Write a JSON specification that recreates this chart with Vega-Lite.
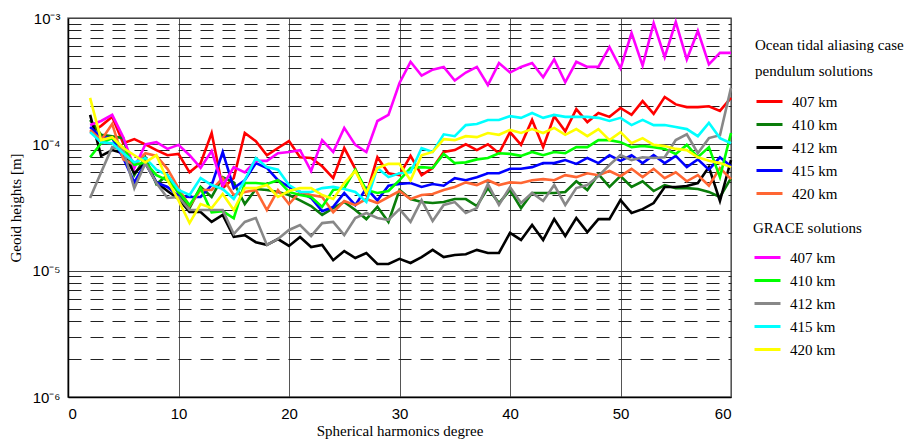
{
"$schema": "https://vega.github.io/schema/vega-lite/v6.json",
"width": 663, "height": 379,
"autosize": {"type": "none"},
"padding": {"left": 68, "top": 18, "right": 182, "bottom": 43},
"background": "white",
"config": {"view": {"stroke": "#777", "strokeWidth": 1.5}},
"datasets": {
"pendulum": [
{"d":2,"k":"407 km","v":1.23e-4},{"d":3,"k":"407 km","v":1.40e-4},{"d":4,"k":"407 km","v":1.65e-4},{"d":5,"k":"407 km","v":1.02e-4},{"d":6,"k":"407 km","v":1.1e-4},{"d":7,"k":"407 km","v":1.0e-4},{"d":8,"k":"407 km","v":9.0e-5},{"d":9,"k":"407 km","v":8.2e-5},{"d":10,"k":"407 km","v":8.4e-5},{"d":11,"k":"407 km","v":6.0e-5},
{"d":12,"k":"407 km","v":7.1e-5},{"d":13,"k":"407 km","v":1.23e-4},{"d":14,"k":"407 km","v":4.5e-5},{"d":15,"k":"407 km","v":5.4e-5},{"d":16,"k":"407 km","v":1.23e-4},{"d":17,"k":"407 km","v":1.06e-4},{"d":18,"k":"407 km","v":8.2e-5},{"d":19,"k":"407 km","v":9.35e-5},{"d":20,"k":"407 km","v":1.06e-4},{"d":21,"k":"407 km","v":7.9e-5},
{"d":22,"k":"407 km","v":7.8e-5},{"d":23,"k":"407 km","v":6.7e-5},{"d":24,"k":"407 km","v":5.4e-5},{"d":25,"k":"407 km","v":9.35e-5},{"d":26,"k":"407 km","v":6.4e-5},{"d":27,"k":"407 km","v":4.0e-5},{"d":28,"k":"407 km","v":7.9e-5},{"d":29,"k":"407 km","v":5.9e-5},{"d":30,"k":"407 km","v":5.7e-5},{"d":31,"k":"407 km","v":8.1e-5},
{"d":32,"k":"407 km","v":5.7e-5},{"d":33,"k":"407 km","v":6.5e-5},{"d":34,"k":"407 km","v":8.7e-5},{"d":35,"k":"407 km","v":9.0e-5},{"d":36,"k":"407 km","v":1.0e-4},{"d":37,"k":"407 km","v":9.0e-5},{"d":38,"k":"407 km","v":1.0e-4},{"d":39,"k":"407 km","v":8.5e-5},{"d":40,"k":"407 km","v":1.25e-4},{"d":41,"k":"407 km","v":9.9e-5},
{"d":42,"k":"407 km","v":1.56e-4},{"d":43,"k":"407 km","v":9.5e-5},{"d":44,"k":"407 km","v":1.67e-4},{"d":45,"k":"407 km","v":1.27e-4},{"d":46,"k":"407 km","v":1.9e-4},{"d":47,"k":"407 km","v":1.5e-4},{"d":48,"k":"407 km","v":1.77e-4},{"d":49,"k":"407 km","v":1.65e-4},{"d":50,"k":"407 km","v":1.94e-4},{"d":51,"k":"407 km","v":1.71e-4},
{"d":52,"k":"407 km","v":2.2e-4},{"d":53,"k":"407 km","v":1.74e-4},{"d":54,"k":"407 km","v":2.37e-4},{"d":55,"k":"407 km","v":2.07e-4},{"d":56,"k":"407 km","v":1.97e-4},{"d":57,"k":"407 km","v":1.97e-4},{"d":58,"k":"407 km","v":2.0e-4},{"d":59,"k":"407 km","v":1.84e-4},{"d":60,"k":"407 km","v":2.33e-4},

{"d":2,"k":"410 km","v":1.56e-4},{"d":3,"k":"410 km","v":1.19e-4},{"d":4,"k":"410 km","v":1.16e-4},{"d":5,"k":"410 km","v":1.12e-4},{"d":6,"k":"410 km","v":5.7e-5},{"d":7,"k":"410 km","v":7.9e-5},{"d":8,"k":"410 km","v":4.85e-5},{"d":9,"k":"410 km","v":5.7e-5},{"d":10,"k":"410 km","v":4.12e-5},{"d":11,"k":"410 km","v":3.13e-5},
{"d":12,"k":"410 km","v":4.6e-5},{"d":13,"k":"410 km","v":3.83e-5},{"d":14,"k":"410 km","v":5.5e-5},{"d":15,"k":"410 km","v":5.0e-5},{"d":16,"k":"410 km","v":3.37e-5},{"d":17,"k":"410 km","v":4.43e-5},{"d":18,"k":"410 km","v":4.35e-5},{"d":19,"k":"410 km","v":4.2e-5},{"d":20,"k":"410 km","v":3.97e-5},{"d":21,"k":"410 km","v":3.6e-5},
{"d":22,"k":"410 km","v":3.25e-5},{"d":23,"k":"410 km","v":2.76e-5},{"d":24,"k":"410 km","v":3.13e-5},{"d":25,"k":"410 km","v":3.5e-5},{"d":26,"k":"410 km","v":3.02e-5},{"d":27,"k":"410 km","v":2.56e-5},{"d":28,"k":"410 km","v":3.2e-5},{"d":29,"k":"410 km","v":2.43e-5},{"d":30,"k":"410 km","v":4.35e-5},{"d":31,"k":"410 km","v":3.69e-5},
{"d":32,"k":"410 km","v":3.5e-5},{"d":33,"k":"410 km","v":3.43e-5},{"d":34,"k":"410 km","v":3.5e-5},{"d":35,"k":"410 km","v":3.69e-5},{"d":36,"k":"410 km","v":3.69e-5},{"d":37,"k":"410 km","v":3.25e-5},{"d":38,"k":"410 km","v":4.5e-5},{"d":39,"k":"410 km","v":3.43e-5},{"d":40,"k":"410 km","v":4.35e-5},{"d":41,"k":"410 km","v":3.13e-5},
{"d":42,"k":"410 km","v":4.12e-5},{"d":43,"k":"410 km","v":4.12e-5},{"d":44,"k":"410 km","v":4.12e-5},{"d":45,"k":"410 km","v":4.2e-5},{"d":46,"k":"410 km","v":5.1e-5},{"d":47,"k":"410 km","v":4.35e-5},{"d":48,"k":"410 km","v":5.8e-5},{"d":49,"k":"410 km","v":4.6e-5},{"d":50,"k":"410 km","v":5.6e-5},{"d":51,"k":"410 km","v":4.6e-5},
{"d":52,"k":"410 km","v":5.1e-5},{"d":53,"k":"410 km","v":4.27e-5},{"d":54,"k":"410 km","v":4.76e-5},{"d":55,"k":"410 km","v":4.5e-5},{"d":56,"k":"410 km","v":4.5e-5},{"d":57,"k":"410 km","v":4.43e-5},{"d":58,"k":"410 km","v":4.2e-5},{"d":59,"k":"410 km","v":3.83e-5},{"d":60,"k":"410 km","v":5.4e-5},

{"d":2,"k":"412 km","v":1.71e-4},{"d":3,"k":"412 km","v":8.1e-5},{"d":4,"k":"412 km","v":9.0e-5},{"d":5,"k":"412 km","v":8.5e-5},{"d":6,"k":"412 km","v":5.9e-5},{"d":7,"k":"412 km","v":7.1e-5},{"d":8,"k":"412 km","v":5.0e-5},{"d":9,"k":"412 km","v":4.27e-5},{"d":10,"k":"412 km","v":3.69e-5},{"d":11,"k":"412 km","v":2.91e-5},
{"d":12,"k":"412 km","v":2.91e-5},{"d":13,"k":"412 km","v":2.43e-5},{"d":14,"k":"412 km","v":2.76e-5},{"d":15,"k":"412 km","v":1.85e-5},{"d":16,"k":"412 km","v":1.91e-5},{"d":17,"k":"412 km","v":1.68e-5},{"d":18,"k":"412 km","v":1.6e-5},{"d":19,"k":"412 km","v":1.78e-5},{"d":20,"k":"412 km","v":1.57e-5},{"d":21,"k":"412 km","v":1.85e-5},
{"d":22,"k":"412 km","v":1.54e-5},{"d":23,"k":"412 km","v":1.6e-5},{"d":24,"k":"412 km","v":1.21e-5},{"d":25,"k":"412 km","v":1.43e-5},{"d":26,"k":"412 km","v":1.26e-5},{"d":27,"k":"412 km","v":1.38e-5},{"d":28,"k":"412 km","v":1.13e-5},{"d":29,"k":"412 km","v":1.13e-5},{"d":30,"k":"412 km","v":1.24e-5},{"d":31,"k":"412 km","v":1.15e-5},
{"d":32,"k":"412 km","v":1.28e-5},{"d":33,"k":"412 km","v":1.46e-5},{"d":34,"k":"412 km","v":1.28e-5},{"d":35,"k":"412 km","v":1.33e-5},{"d":36,"k":"412 km","v":1.35e-5},{"d":37,"k":"412 km","v":1.46e-5},{"d":38,"k":"412 km","v":1.38e-5},{"d":39,"k":"412 km","v":1.38e-5},{"d":40,"k":"412 km","v":1.99e-5},{"d":41,"k":"412 km","v":1.75e-5},
{"d":42,"k":"412 km","v":2.3e-5},{"d":43,"k":"412 km","v":1.75e-5},{"d":44,"k":"412 km","v":2.56e-5},{"d":45,"k":"412 km","v":1.88e-5},{"d":46,"k":"412 km","v":2.61e-5},{"d":47,"k":"412 km","v":2.02e-5},{"d":48,"k":"412 km","v":2.56e-5},{"d":49,"k":"412 km","v":2.56e-5},{"d":50,"k":"412 km","v":3.62e-5},{"d":51,"k":"412 km","v":2.86e-5},
{"d":52,"k":"412 km","v":3.07e-5},{"d":53,"k":"412 km","v":3.43e-5},{"d":54,"k":"412 km","v":4.59e-5},{"d":55,"k":"412 km","v":4.59e-5},{"d":56,"k":"412 km","v":4.68e-5},{"d":57,"k":"412 km","v":4.94e-5},{"d":58,"k":"412 km","v":6.61e-5},{"d":59,"k":"412 km","v":3.56e-5},{"d":60,"k":"412 km","v":7.5e-5},

{"d":2,"k":"415 km","v":1.37e-4},{"d":3,"k":"415 km","v":1.14e-4},{"d":4,"k":"415 km","v":1.12e-4},{"d":5,"k":"415 km","v":7.8e-5},{"d":6,"k":"415 km","v":5.0e-5},{"d":7,"k":"415 km","v":7.1e-5},{"d":8,"k":"415 km","v":5.0e-5},{"d":9,"k":"415 km","v":4.6e-5},{"d":10,"k":"415 km","v":3.9e-5},{"d":11,"k":"415 km","v":3.83e-5},
{"d":12,"k":"415 km","v":3.83e-5},{"d":13,"k":"415 km","v":4.76e-5},{"d":14,"k":"415 km","v":8.7e-5},{"d":15,"k":"415 km","v":4.5e-5},{"d":16,"k":"415 km","v":5.2e-5},{"d":17,"k":"415 km","v":7.1e-5},{"d":18,"k":"415 km","v":6.5e-5},{"d":19,"k":"415 km","v":5.2e-5},{"d":20,"k":"415 km","v":4.6e-5},{"d":21,"k":"415 km","v":4.2e-5},
{"d":22,"k":"415 km","v":3.76e-5},{"d":23,"k":"415 km","v":2.96e-5},{"d":24,"k":"415 km","v":3.2e-5},{"d":25,"k":"415 km","v":4.12e-5},{"d":26,"k":"415 km","v":3.3e-5},{"d":27,"k":"415 km","v":4.5e-5},{"d":28,"k":"415 km","v":3.6e-5},{"d":29,"k":"415 km","v":4.7e-5},{"d":30,"k":"415 km","v":4.85e-5},{"d":31,"k":"415 km","v":4.94e-5},
{"d":32,"k":"415 km","v":4.6e-5},{"d":33,"k":"415 km","v":4.85e-5},{"d":34,"k":"415 km","v":4.7e-5},{"d":35,"k":"415 km","v":5.4e-5},{"d":36,"k":"415 km","v":5.2e-5},{"d":37,"k":"415 km","v":5.5e-5},{"d":38,"k":"415 km","v":5.9e-5},{"d":39,"k":"415 km","v":5.9e-5},{"d":40,"k":"415 km","v":6.4e-5},{"d":41,"k":"415 km","v":6.4e-5},
{"d":42,"k":"415 km","v":6.6e-5},{"d":43,"k":"415 km","v":7.1e-5},{"d":44,"k":"415 km","v":7.1e-5},{"d":45,"k":"415 km","v":7.5e-5},{"d":46,"k":"415 km","v":7.0e-5},{"d":47,"k":"415 km","v":7.8e-5},{"d":48,"k":"415 km","v":7.1e-5},{"d":49,"k":"415 km","v":8.2e-5},{"d":50,"k":"415 km","v":7.4e-5},{"d":51,"k":"415 km","v":8.2e-5},
{"d":52,"k":"415 km","v":7.1e-5},{"d":53,"k":"415 km","v":8.2e-5},{"d":54,"k":"415 km","v":7.1e-5},{"d":55,"k":"415 km","v":8.1e-5},{"d":56,"k":"415 km","v":6.6e-5},{"d":57,"k":"415 km","v":7.6e-5},{"d":58,"k":"415 km","v":6.3e-5},{"d":59,"k":"415 km","v":7.9e-5},{"d":60,"k":"415 km","v":6.7e-5},

{"d":2,"k":"420 km","v":1.3e-4},{"d":3,"k":"420 km","v":1.08e-4},{"d":4,"k":"420 km","v":1.45e-4},{"d":5,"k":"420 km","v":7.6e-5},{"d":6,"k":"420 km","v":6.9e-5},{"d":7,"k":"420 km","v":8.5e-5},{"d":8,"k":"420 km","v":8.1e-5},{"d":9,"k":"420 km","v":6.4e-5},{"d":10,"k":"420 km","v":4.5e-5},{"d":11,"k":"420 km","v":3.25e-5},
{"d":12,"k":"420 km","v":4.35e-5},{"d":13,"k":"420 km","v":4.35e-5},{"d":14,"k":"420 km","v":5.4e-5},{"d":15,"k":"420 km","v":3.97e-5},{"d":16,"k":"420 km","v":4.2e-5},{"d":17,"k":"420 km","v":4.35e-5},{"d":18,"k":"420 km","v":3.02e-5},{"d":19,"k":"420 km","v":4.35e-5},{"d":20,"k":"420 km","v":3.37e-5},{"d":21,"k":"420 km","v":4.2e-5},
{"d":22,"k":"420 km","v":3.97e-5},{"d":23,"k":"420 km","v":3.83e-5},{"d":24,"k":"420 km","v":2.9e-5},{"d":25,"k":"420 km","v":3.56e-5},{"d":26,"k":"420 km","v":3.3e-5},{"d":27,"k":"420 km","v":3.69e-5},{"d":28,"k":"420 km","v":3.43e-5},{"d":29,"k":"420 km","v":3.83e-5},{"d":30,"k":"420 km","v":4.27e-5},{"d":31,"k":"420 km","v":3.69e-5},
{"d":32,"k":"420 km","v":3.97e-5},{"d":33,"k":"420 km","v":4.04e-5},{"d":34,"k":"420 km","v":4.35e-5},{"d":35,"k":"420 km","v":4.6e-5},{"d":36,"k":"420 km","v":5.0e-5},{"d":37,"k":"420 km","v":4.76e-5},{"d":38,"k":"420 km","v":5.2e-5},{"d":39,"k":"420 km","v":4.76e-5},{"d":40,"k":"420 km","v":5.0e-5},{"d":41,"k":"420 km","v":4.94e-5},
{"d":42,"k":"420 km","v":5.2e-5},{"d":43,"k":"420 km","v":5.3e-5},{"d":44,"k":"420 km","v":5.2e-5},{"d":45,"k":"420 km","v":5.7e-5},{"d":46,"k":"420 km","v":5.5e-5},{"d":47,"k":"420 km","v":5.9e-5},{"d":48,"k":"420 km","v":5.7e-5},{"d":49,"k":"420 km","v":6.15e-5},{"d":50,"k":"420 km","v":5.6e-5},{"d":51,"k":"420 km","v":6.4e-5},
{"d":52,"k":"420 km","v":5.5e-5},{"d":53,"k":"420 km","v":6.4e-5},{"d":54,"k":"420 km","v":5.4e-5},{"d":55,"k":"420 km","v":6.0e-5},{"d":56,"k":"420 km","v":5.1e-5},{"d":57,"k":"420 km","v":5.7e-5},{"d":58,"k":"420 km","v":4.7e-5},{"d":59,"k":"420 km","v":6.5e-5},{"d":60,"k":"420 km","v":5.3e-5}
],
"grace": [
{"d":2,"k":"407 km","v":1.42e-4},{"d":3,"k":"407 km","v":1.53e-4},{"d":4,"k":"407 km","v":1.71e-4},{"d":5,"k":"407 km","v":1.14e-4},{"d":6,"k":"407 km","v":6.5e-5},{"d":7,"k":"407 km","v":1.0e-4},{"d":8,"k":"407 km","v":1.04e-4},{"d":9,"k":"407 km","v":9.2e-5},{"d":10,"k":"407 km","v":9.9e-5},{"d":11,"k":"407 km","v":8.2e-5},
{"d":12,"k":"407 km","v":6.5e-5},{"d":13,"k":"407 km","v":8.85e-5},{"d":14,"k":"407 km","v":4.7e-5},{"d":15,"k":"407 km","v":6.6e-5},{"d":16,"k":"407 km","v":6.0e-5},{"d":17,"k":"407 km","v":7.4e-5},{"d":18,"k":"407 km","v":7.4e-5},{"d":19,"k":"407 km","v":8.5e-5},{"d":20,"k":"407 km","v":8.7e-5},{"d":21,"k":"407 km","v":9.0e-5},
{"d":22,"k":"407 km","v":6.15e-5},{"d":23,"k":"407 km","v":1.08e-4},{"d":24,"k":"407 km","v":8.7e-5},{"d":25,"k":"407 km","v":1.35e-4},{"d":26,"k":"407 km","v":9.9e-5},{"d":27,"k":"407 km","v":8.7e-5},{"d":28,"k":"407 km","v":1.53e-4},{"d":29,"k":"407 km","v":1.71e-4},{"d":30,"k":"407 km","v":3.06e-4},{"d":31,"k":"407 km","v":4.5e-4},
{"d":32,"k":"407 km","v":3.5e-4},{"d":33,"k":"407 km","v":3.9e-4},{"d":34,"k":"407 km","v":4.1e-4},{"d":35,"k":"407 km","v":3.2e-4},{"d":36,"k":"407 km","v":3.7e-4},{"d":37,"k":"407 km","v":4.1e-4},{"d":38,"k":"407 km","v":2.95e-4},{"d":39,"k":"407 km","v":4.4e-4},{"d":40,"k":"407 km","v":3.7e-4},{"d":41,"k":"407 km","v":4.1e-4},
{"d":42,"k":"407 km","v":4.4e-4},{"d":43,"k":"407 km","v":3.4e-4},{"d":44,"k":"407 km","v":4.7e-4},{"d":45,"k":"407 km","v":3.1e-4},{"d":46,"k":"407 km","v":4.5e-4},{"d":47,"k":"407 km","v":4.1e-4},{"d":48,"k":"407 km","v":4.1e-4},{"d":49,"k":"407 km","v":5.9e-4},{"d":50,"k":"407 km","v":4.0e-4},{"d":51,"k":"407 km","v":7.6e-4},
{"d":52,"k":"407 km","v":4.2e-4},{"d":53,"k":"407 km","v":9.1e-4},{"d":54,"k":"407 km","v":4.9e-4},{"d":55,"k":"407 km","v":9.3e-4},{"d":56,"k":"407 km","v":4.7e-4},{"d":57,"k":"407 km","v":7.9e-4},{"d":58,"k":"407 km","v":4.3e-4},{"d":59,"k":"407 km","v":5.3e-4},{"d":60,"k":"407 km","v":5.3e-4},

{"d":2,"k":"410 km","v":7.9e-5},{"d":3,"k":"410 km","v":1.02e-4},{"d":4,"k":"410 km","v":1.12e-4},{"d":5,"k":"410 km","v":9.35e-5},{"d":6,"k":"410 km","v":6.9e-5},{"d":7,"k":"410 km","v":7.2e-5},{"d":8,"k":"410 km","v":5.7e-5},{"d":9,"k":"410 km","v":5.2e-5},{"d":10,"k":"410 km","v":4.2e-5},{"d":11,"k":"410 km","v":3.3e-5},
{"d":12,"k":"410 km","v":4.5e-5},{"d":13,"k":"410 km","v":2.9e-5},{"d":14,"k":"410 km","v":2.96e-5},{"d":15,"k":"410 km","v":2.6e-5},{"d":16,"k":"410 km","v":4.94e-5},{"d":17,"k":"410 km","v":4.94e-5},{"d":18,"k":"410 km","v":4.85e-5},{"d":19,"k":"410 km","v":5.2e-5},{"d":20,"k":"410 km","v":4.2e-5},{"d":21,"k":"410 km","v":3.97e-5},
{"d":22,"k":"410 km","v":3.83e-5},{"d":23,"k":"410 km","v":3.2e-5},{"d":24,"k":"410 km","v":4.35e-5},{"d":25,"k":"410 km","v":4.5e-5},{"d":26,"k":"410 km","v":6.3e-5},{"d":27,"k":"410 km","v":4.35e-5},{"d":28,"k":"410 km","v":4.12e-5},{"d":29,"k":"410 km","v":4.27e-5},{"d":30,"k":"410 km","v":5.2e-5},{"d":31,"k":"410 km","v":6.5e-5},
{"d":32,"k":"410 km","v":6.6e-5},{"d":33,"k":"410 km","v":6.5e-5},{"d":34,"k":"410 km","v":8.4e-5},{"d":35,"k":"410 km","v":7.1e-5},{"d":36,"k":"410 km","v":7.2e-5},{"d":37,"k":"410 km","v":7.6e-5},{"d":38,"k":"410 km","v":7.8e-5},{"d":39,"k":"410 km","v":8.5e-5},{"d":40,"k":"410 km","v":8.4e-5},{"d":41,"k":"410 km","v":8.1e-5},
{"d":42,"k":"410 km","v":8.7e-5},{"d":43,"k":"410 km","v":8.2e-5},{"d":44,"k":"410 km","v":8.7e-5},{"d":45,"k":"410 km","v":8.5e-5},{"d":46,"k":"410 km","v":9.5e-5},{"d":47,"k":"410 km","v":9.5e-5},{"d":48,"k":"410 km","v":1.08e-4},{"d":49,"k":"410 km","v":1.08e-4},{"d":50,"k":"410 km","v":1.04e-4},{"d":51,"k":"410 km","v":9.5e-5},
{"d":52,"k":"410 km","v":9.7e-5},{"d":53,"k":"410 km","v":9.5e-5},{"d":54,"k":"410 km","v":9.2e-5},{"d":55,"k":"410 km","v":8.4e-5},{"d":56,"k":"410 km","v":9.9e-5},{"d":57,"k":"410 km","v":7.9e-5},{"d":58,"k":"410 km","v":9.5e-5},{"d":59,"k":"410 km","v":5.5e-5},{"d":60,"k":"410 km","v":1.23e-4},

{"d":2,"k":"412 km","v":3.76e-5},{"d":3,"k":"412 km","v":6.0e-5},{"d":4,"k":"412 km","v":9.5e-5},{"d":5,"k":"412 km","v":9.0e-5},{"d":6,"k":"412 km","v":4.5e-5},{"d":7,"k":"412 km","v":7.1e-5},{"d":8,"k":"412 km","v":4.94e-5},{"d":9,"k":"412 km","v":3.76e-5},{"d":10,"k":"412 km","v":3.83e-5},{"d":11,"k":"412 km","v":3.02e-5},
{"d":12,"k":"412 km","v":3.02e-5},{"d":13,"k":"412 km","v":3.02e-5},{"d":14,"k":"412 km","v":3.02e-5},{"d":15,"k":"412 km","v":1.95e-5},{"d":16,"k":"412 km","v":2.43e-5},{"d":17,"k":"412 km","v":2.61e-5},{"d":18,"k":"412 km","v":1.6e-5},{"d":19,"k":"412 km","v":1.78e-5},{"d":20,"k":"412 km","v":2.1e-5},{"d":21,"k":"412 km","v":2.3e-5},
{"d":22,"k":"412 km","v":1.88e-5},{"d":23,"k":"412 km","v":2.38e-5},{"d":24,"k":"412 km","v":2.43e-5},{"d":25,"k":"412 km","v":1.91e-5},{"d":26,"k":"412 km","v":2.61e-5},{"d":27,"k":"412 km","v":2.86e-5},{"d":28,"k":"412 km","v":2.61e-5},{"d":29,"k":"412 km","v":2.52e-5},{"d":30,"k":"412 km","v":3.07e-5},{"d":31,"k":"412 km","v":2.43e-5},
{"d":32,"k":"412 km","v":3.62e-5},{"d":33,"k":"412 km","v":2.47e-5},{"d":34,"k":"412 km","v":3.31e-5},{"d":35,"k":"412 km","v":3.49e-5},{"d":36,"k":"412 km","v":2.86e-5},{"d":37,"k":"412 km","v":3.13e-5},{"d":38,"k":"412 km","v":4.85e-5},{"d":39,"k":"412 km","v":3.31e-5},{"d":40,"k":"412 km","v":4.59e-5},{"d":41,"k":"412 km","v":3.43e-5},
{"d":42,"k":"412 km","v":4.12e-5},{"d":43,"k":"412 km","v":3.56e-5},{"d":44,"k":"412 km","v":4.76e-5},{"d":45,"k":"412 km","v":3.31e-5},{"d":46,"k":"412 km","v":4.51e-5},{"d":47,"k":"412 km","v":4.76e-5},{"d":48,"k":"412 km","v":5.6e-5},{"d":49,"k":"412 km","v":6.86e-5},{"d":50,"k":"412 km","v":8.23e-5},{"d":51,"k":"412 km","v":7.5e-5},
{"d":52,"k":"412 km","v":7.9e-5},{"d":53,"k":"412 km","v":7.8e-5},{"d":54,"k":"412 km","v":7.9e-5},{"d":55,"k":"412 km","v":1.08e-4},{"d":56,"k":"412 km","v":1.2e-4},{"d":57,"k":"412 km","v":8.5e-5},{"d":58,"k":"412 km","v":1.12e-4},{"d":59,"k":"412 km","v":1.18e-4},{"d":60,"k":"412 km","v":2.8e-4},

{"d":2,"k":"415 km","v":1.25e-4},{"d":3,"k":"415 km","v":1.04e-4},{"d":4,"k":"415 km","v":1.02e-4},{"d":5,"k":"415 km","v":8.5e-5},{"d":6,"k":"415 km","v":7.2e-5},{"d":7,"k":"415 km","v":7.8e-5},{"d":8,"k":"415 km","v":6.3e-5},{"d":9,"k":"415 km","v":5.7e-5},{"d":10,"k":"415 km","v":4.35e-5},{"d":11,"k":"415 km","v":3.97e-5},
{"d":12,"k":"415 km","v":5.4e-5},{"d":13,"k":"415 km","v":4.76e-5},{"d":14,"k":"415 km","v":4.43e-5},{"d":15,"k":"415 km","v":3.69e-5},{"d":16,"k":"415 km","v":5.2e-5},{"d":17,"k":"415 km","v":7.8e-5},{"d":18,"k":"415 km","v":6.6e-5},{"d":19,"k":"415 km","v":6.3e-5},{"d":20,"k":"415 km","v":4.76e-5},{"d":21,"k":"415 km","v":4.2e-5},
{"d":22,"k":"415 km","v":4.2e-5},{"d":23,"k":"415 km","v":4.5e-5},{"d":24,"k":"415 km","v":4.6e-5},{"d":25,"k":"415 km","v":4.43e-5},{"d":26,"k":"415 km","v":4.2e-5},{"d":27,"k":"415 km","v":3.5e-5},{"d":28,"k":"415 km","v":6.5e-5},{"d":29,"k":"415 km","v":5.5e-5},{"d":30,"k":"415 km","v":5.9e-5},{"d":31,"k":"415 km","v":6.0e-5},
{"d":32,"k":"415 km","v":9.35e-5},{"d":33,"k":"415 km","v":8.7e-5},{"d":34,"k":"415 km","v":1.2e-4},{"d":35,"k":"415 km","v":1.16e-4},{"d":36,"k":"415 km","v":1.42e-4},{"d":37,"k":"415 km","v":1.45e-4},{"d":38,"k":"415 km","v":1.56e-4},{"d":39,"k":"415 km","v":1.56e-4},{"d":40,"k":"415 km","v":1.67e-4},{"d":41,"k":"415 km","v":1.62e-4},
{"d":42,"k":"415 km","v":1.77e-4},{"d":43,"k":"415 km","v":1.62e-4},{"d":44,"k":"415 km","v":1.71e-4},{"d":45,"k":"415 km","v":1.65e-4},{"d":46,"k":"415 km","v":1.65e-4},{"d":47,"k":"415 km","v":1.65e-4},{"d":48,"k":"415 km","v":1.62e-4},{"d":49,"k":"415 km","v":1.53e-4},{"d":50,"k":"415 km","v":1.62e-4},{"d":51,"k":"415 km","v":1.42e-4},
{"d":52,"k":"415 km","v":1.56e-4},{"d":53,"k":"415 km","v":1.42e-4},{"d":54,"k":"415 km","v":1.42e-4},{"d":55,"k":"415 km","v":1.37e-4},{"d":56,"k":"415 km","v":1.32e-4},{"d":57,"k":"415 km","v":1.16e-4},{"d":58,"k":"415 km","v":1.48e-4},{"d":59,"k":"415 km","v":1.12e-4},{"d":60,"k":"415 km","v":1.02e-4},

{"d":2,"k":"420 km","v":2.33e-4},{"d":3,"k":"420 km","v":1.08e-4},{"d":4,"k":"420 km","v":1.14e-4},{"d":5,"k":"420 km","v":9.35e-5},{"d":6,"k":"420 km","v":8.2e-5},{"d":7,"k":"420 km","v":7.2e-5},{"d":8,"k":"420 km","v":8.2e-5},{"d":9,"k":"420 km","v":5.2e-5},{"d":10,"k":"420 km","v":3.6e-5},{"d":11,"k":"420 km","v":2.38e-5},
{"d":12,"k":"420 km","v":3.37e-5},{"d":13,"k":"420 km","v":3.13e-5},{"d":14,"k":"420 km","v":4.04e-5},{"d":15,"k":"420 km","v":3.02e-5},{"d":16,"k":"420 km","v":4.5e-5},{"d":17,"k":"420 km","v":4.5e-5},{"d":18,"k":"420 km","v":4.76e-5},{"d":19,"k":"420 km","v":3.83e-5},{"d":20,"k":"420 km","v":4.27e-5},{"d":21,"k":"420 km","v":4.5e-5},
{"d":22,"k":"420 km","v":4.5e-5},{"d":23,"k":"420 km","v":3.97e-5},{"d":24,"k":"420 km","v":3.69e-5},{"d":25,"k":"420 km","v":4.94e-5},{"d":26,"k":"420 km","v":6.15e-5},{"d":27,"k":"420 km","v":4.12e-5},{"d":28,"k":"420 km","v":6.5e-5},{"d":29,"k":"420 km","v":7.0e-5},{"d":30,"k":"420 km","v":7.0e-5},{"d":31,"k":"420 km","v":5.2e-5},
{"d":32,"k":"420 km","v":8.2e-5},{"d":33,"k":"420 km","v":8.7e-5},{"d":34,"k":"420 km","v":1.1e-4},{"d":35,"k":"420 km","v":1.08e-4},{"d":36,"k":"420 km","v":1.16e-4},{"d":37,"k":"420 km","v":1.14e-4},{"d":38,"k":"420 km","v":1.23e-4},{"d":39,"k":"420 km","v":1.19e-4},{"d":40,"k":"420 km","v":1.3e-4},{"d":41,"k":"420 km","v":1.23e-4},
{"d":42,"k":"420 km","v":1.32e-4},{"d":43,"k":"420 km","v":1.23e-4},{"d":44,"k":"420 km","v":1.35e-4},{"d":45,"k":"420 km","v":1.19e-4},{"d":46,"k":"420 km","v":1.32e-4},{"d":47,"k":"420 km","v":1.16e-4},{"d":48,"k":"420 km","v":1.32e-4},{"d":49,"k":"420 km","v":1.08e-4},{"d":50,"k":"420 km","v":1.25e-4},{"d":51,"k":"420 km","v":1.02e-4},
{"d":52,"k":"420 km","v":1.12e-4},{"d":53,"k":"420 km","v":9.9e-5},{"d":54,"k":"420 km","v":9.7e-5},{"d":55,"k":"420 km","v":9.2e-5},{"d":56,"k":"420 km","v":9.0e-5},{"d":57,"k":"420 km","v":7.9e-5},{"d":58,"k":"420 km","v":7.4e-5},{"d":59,"k":"420 km","v":7.1e-5},{"d":60,"k":"420 km","v":6.6e-5}
]
},
"layer": [
{
"data": {"name": "pendulum"},
"mark": {"type": "line", "strokeWidth": 2.6},
"encoding": {
"x": {"field": "d", "type": "quantitative", "scale": {"domain": [0, 60], "nice": false},
"axis": {"values": [0,10,20,30,40,50,60], "grid": true, "gridColor": "#555", "gridWidth": 1, "gridOpacity": 1, "ticks": false, "domainColor": "black", "domainWidth": 1.5, "labelFont": "Liberation Sans", "labelFontSize": 15, "labelColor": "black", "labelPadding": 9, "title": "Spherical harmonics degree", "titleFont": "Liberation Serif", "titleFontSize": 15, "titleFontWeight": "normal", "titleColor": "black", "titlePadding": 2}},
"y": {"field": "v", "type": "quantitative", "scale": {"type": "log", "domain": [1e-6, 1e-3], "nice": false},
"axis": {"orient": "left", "values": [2e-6,3e-6,4e-6,5e-6,6e-6,7e-6,8e-6,9e-6,2e-5,3e-5,4e-5,5e-5,6e-5,7e-5,8e-5,9e-5,2e-4,3e-4,4e-4,5e-4,6e-4,7e-4,8e-4,9e-4], "grid": true, "gridDash": [13, 9], "gridColor": "#222", "gridWidth": 1, "gridOpacity": 1, "labels": false, "ticks": false, "domain": false, "title": null}},
"color": {"field": "k", "type": "nominal",
"scale": {"domain": ["407 km","410 km","412 km","415 km","420 km"], "range": ["#ff0000","#0a7d0a","#000000","#0000ff","#ff6633"]},
"legend": {"title": ["Ocean tidal aliasing case", "pendulum solutions"], "orient": "none", "legendX": 687, "legendY": 20, "symbolType": "stroke", "symbolStrokeWidth": 3, "symbolSize": 676, "labelOffset": 8, "labelFont": "Liberation Serif", "labelFontSize": 15, "labelColor": "black", "titleFont": "Liberation Serif", "titleFontSize": 15, "titleFontWeight": "normal", "titleColor": "black", "titleLineHeight": 26, "titlePadding": 8, "rowPadding": 0, "padding": 0, "labelLimit": 200, "titleLimit": 200}}
}
},
{
"data": {"name": "grace"},
"mark": {"type": "line", "strokeWidth": 2.6},
"encoding": {
"x": {"field": "d", "type": "quantitative", "scale": {"domain": [0, 60], "nice": false},
"axis": {"values": [0,10,20,30,40,50,60], "grid": true, "gridColor": "#555", "gridWidth": 1, "gridOpacity": 1, "ticks": false, "domainColor": "black", "domainWidth": 1.5, "labelFont": "Liberation Sans", "labelFontSize": 15, "labelColor": "black", "labelPadding": 9, "title": "Spherical harmonics degree", "titleFont": "Liberation Serif", "titleFontSize": 15, "titleFontWeight": "normal", "titleColor": "black", "titlePadding": 2}},
"y": {"field": "v", "type": "quantitative", "scale": {"type": "log", "domain": [1e-6, 1e-3], "nice": false},
"axis": {"orient": "left", "values": [1e-6, 1e-5, 1e-4, 1e-3], "grid": true, "gridColor": "#444", "gridWidth": 1, "gridOpacity": 1, "ticks": false, "domain": true, "domainColor": "black", "domainWidth": 1.5, "labelExpr": "datum.value > 0.00099 ? '10⁻³' : datum.value > 0.000099 ? '10⁻⁴' : datum.value > 0.0000099 ? '10⁻⁵' : '10⁻⁶'", "labelFont": "Liberation Sans", "labelFontSize": 15, "labelColor": "black", "labelPadding": 8, "labelDy": 3, "title": "Geoid heights [m]", "titleFont": "Liberation Serif", "titleFontSize": 15, "titleFontWeight": "normal", "titleColor": "black", "titlePadding": 8}},
"color": {"field": "k", "type": "nominal",
"scale": {"domain": ["407 km","410 km","412 km","415 km","420 km"], "range": ["#ff00ff","#00ff00","#888888","#00ffff","#ffff00"]},
"legend": {"title": "GRACE solutions", "orient": "none", "legendX": 685, "legendY": 203, "symbolType": "stroke", "symbolStrokeWidth": 3, "symbolSize": 676, "labelOffset": 8, "labelFont": "Liberation Serif", "labelFontSize": 15, "labelColor": "black", "titleFont": "Liberation Serif", "titleFontSize": 15, "titleFontWeight": "normal", "titleColor": "black", "titlePadding": 7, "rowPadding": 0, "padding": 0, "labelLimit": 200, "titleLimit": 200}}
}
}
],
"resolve": {"scale": {"color": "independent"}, "axis": {"y": "independent"}}
}
